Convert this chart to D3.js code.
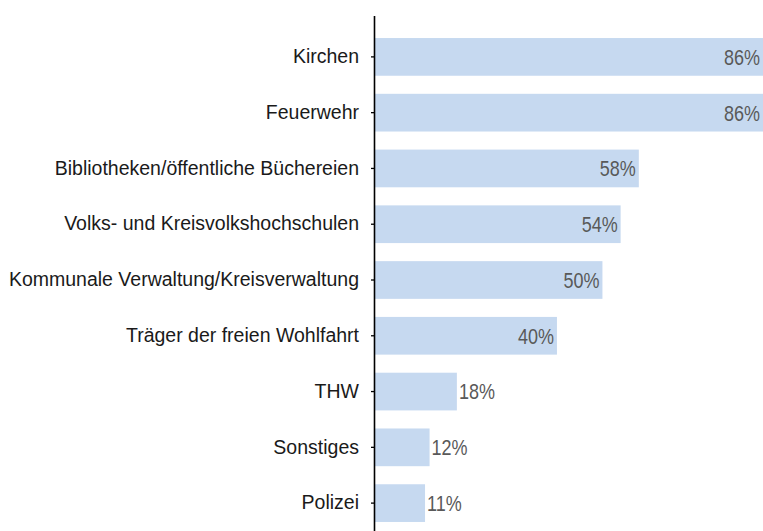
<!DOCTYPE html>
<html>
<head>
<meta charset="utf-8">
<script src="https://cdn.jsdelivr.net/npm/d3@7"></script>
<style>
html, body { margin: 0; padding: 0; background: #fff; }
svg { display: block; overflow: hidden; }
</style>
</head>
<body>
<script>
const categories = [
  "Kirchen",
  "Feuerwehr",
  "Bibliotheken/öffentliche Büchereien",
  "Volks- und Kreisvolkshochschulen",
  "Kommunale Verwaltung/Kreisverwaltung",
  "Träger der freien Wohlfahrt",
  "THW",
  "Sonstiges",
  "Polizei"
];
const values = [86, 86, 58, 54, 50, 40, 18, 12, 11];
const valueLabels = ["86%", "86%", "58%", "54%", "50%", "40%", "18%", "12%", "11%"];

const W = 763, H = 531;
const axisX = 375;
const svg = d3.select("body").append("svg").attr("width", W).attr("height", H);

const x = d3.scaleLinear().domain([0, 85.3]).range([axisX, W]);
const y = d3.scaleBand().domain(categories).range([29, 531]).paddingInner(0.324).paddingOuter(0.162);

const data = categories.map((c, i) => ({ c, v: values[i], l: valueLabels[i] }));

svg.append("g").selectAll("rect").data(data).join("rect")
  .attr("x", axisX)
  .attr("y", d => y(d.c))
  .attr("width", d => x(d.v) - axisX)
  .attr("height", y.bandwidth())
  .attr("fill", "#c6d9f0");

// value labels
svg.append("g").selectAll("text").data(data).join("text")
  .attr("transform", d => {
    const inside = d.v >= 20;
    const xe = Math.min(x(d.v), W);
    const tx = inside ? xe - 3 : xe + 2;
    return `translate(${tx},${y(d.c) + y.bandwidth() / 2}) scale(0.8,1)`;
  })
  .attr("text-anchor", d => d.v >= 20 ? "end" : "start")
  .attr("dy", "0.35em")
  .attr("font-family", "'Liberation Sans', Arial, sans-serif")
  .attr("font-size", "22.5px")
  .attr("fill", "#595959")
  .text(d => d.l);

// y axis
const axis = d3.axisLeft(y).tickSize(4).tickPadding(12).tickSizeOuter(0);
const gA = svg.append("g").attr("transform", `translate(${axisX},0)`).call(axis);
gA.select(".domain").remove();
gA.selectAll(".tick line").attr("stroke", "#000").attr("stroke-width", 1.3);
gA.selectAll(".tick text")
  .attr("font-family", "'Liberation Sans', Arial, sans-serif")
  .attr("font-size", "19.5px")
  .attr("fill", "#1a1a1a");

svg.append("line")
  .attr("x1", axisX - 0.5).attr("x2", axisX - 0.5)
  .attr("y1", 16).attr("y2", H)
  .attr("stroke", "#000").attr("stroke-width", 1.6);
</script>
</body>
</html>
